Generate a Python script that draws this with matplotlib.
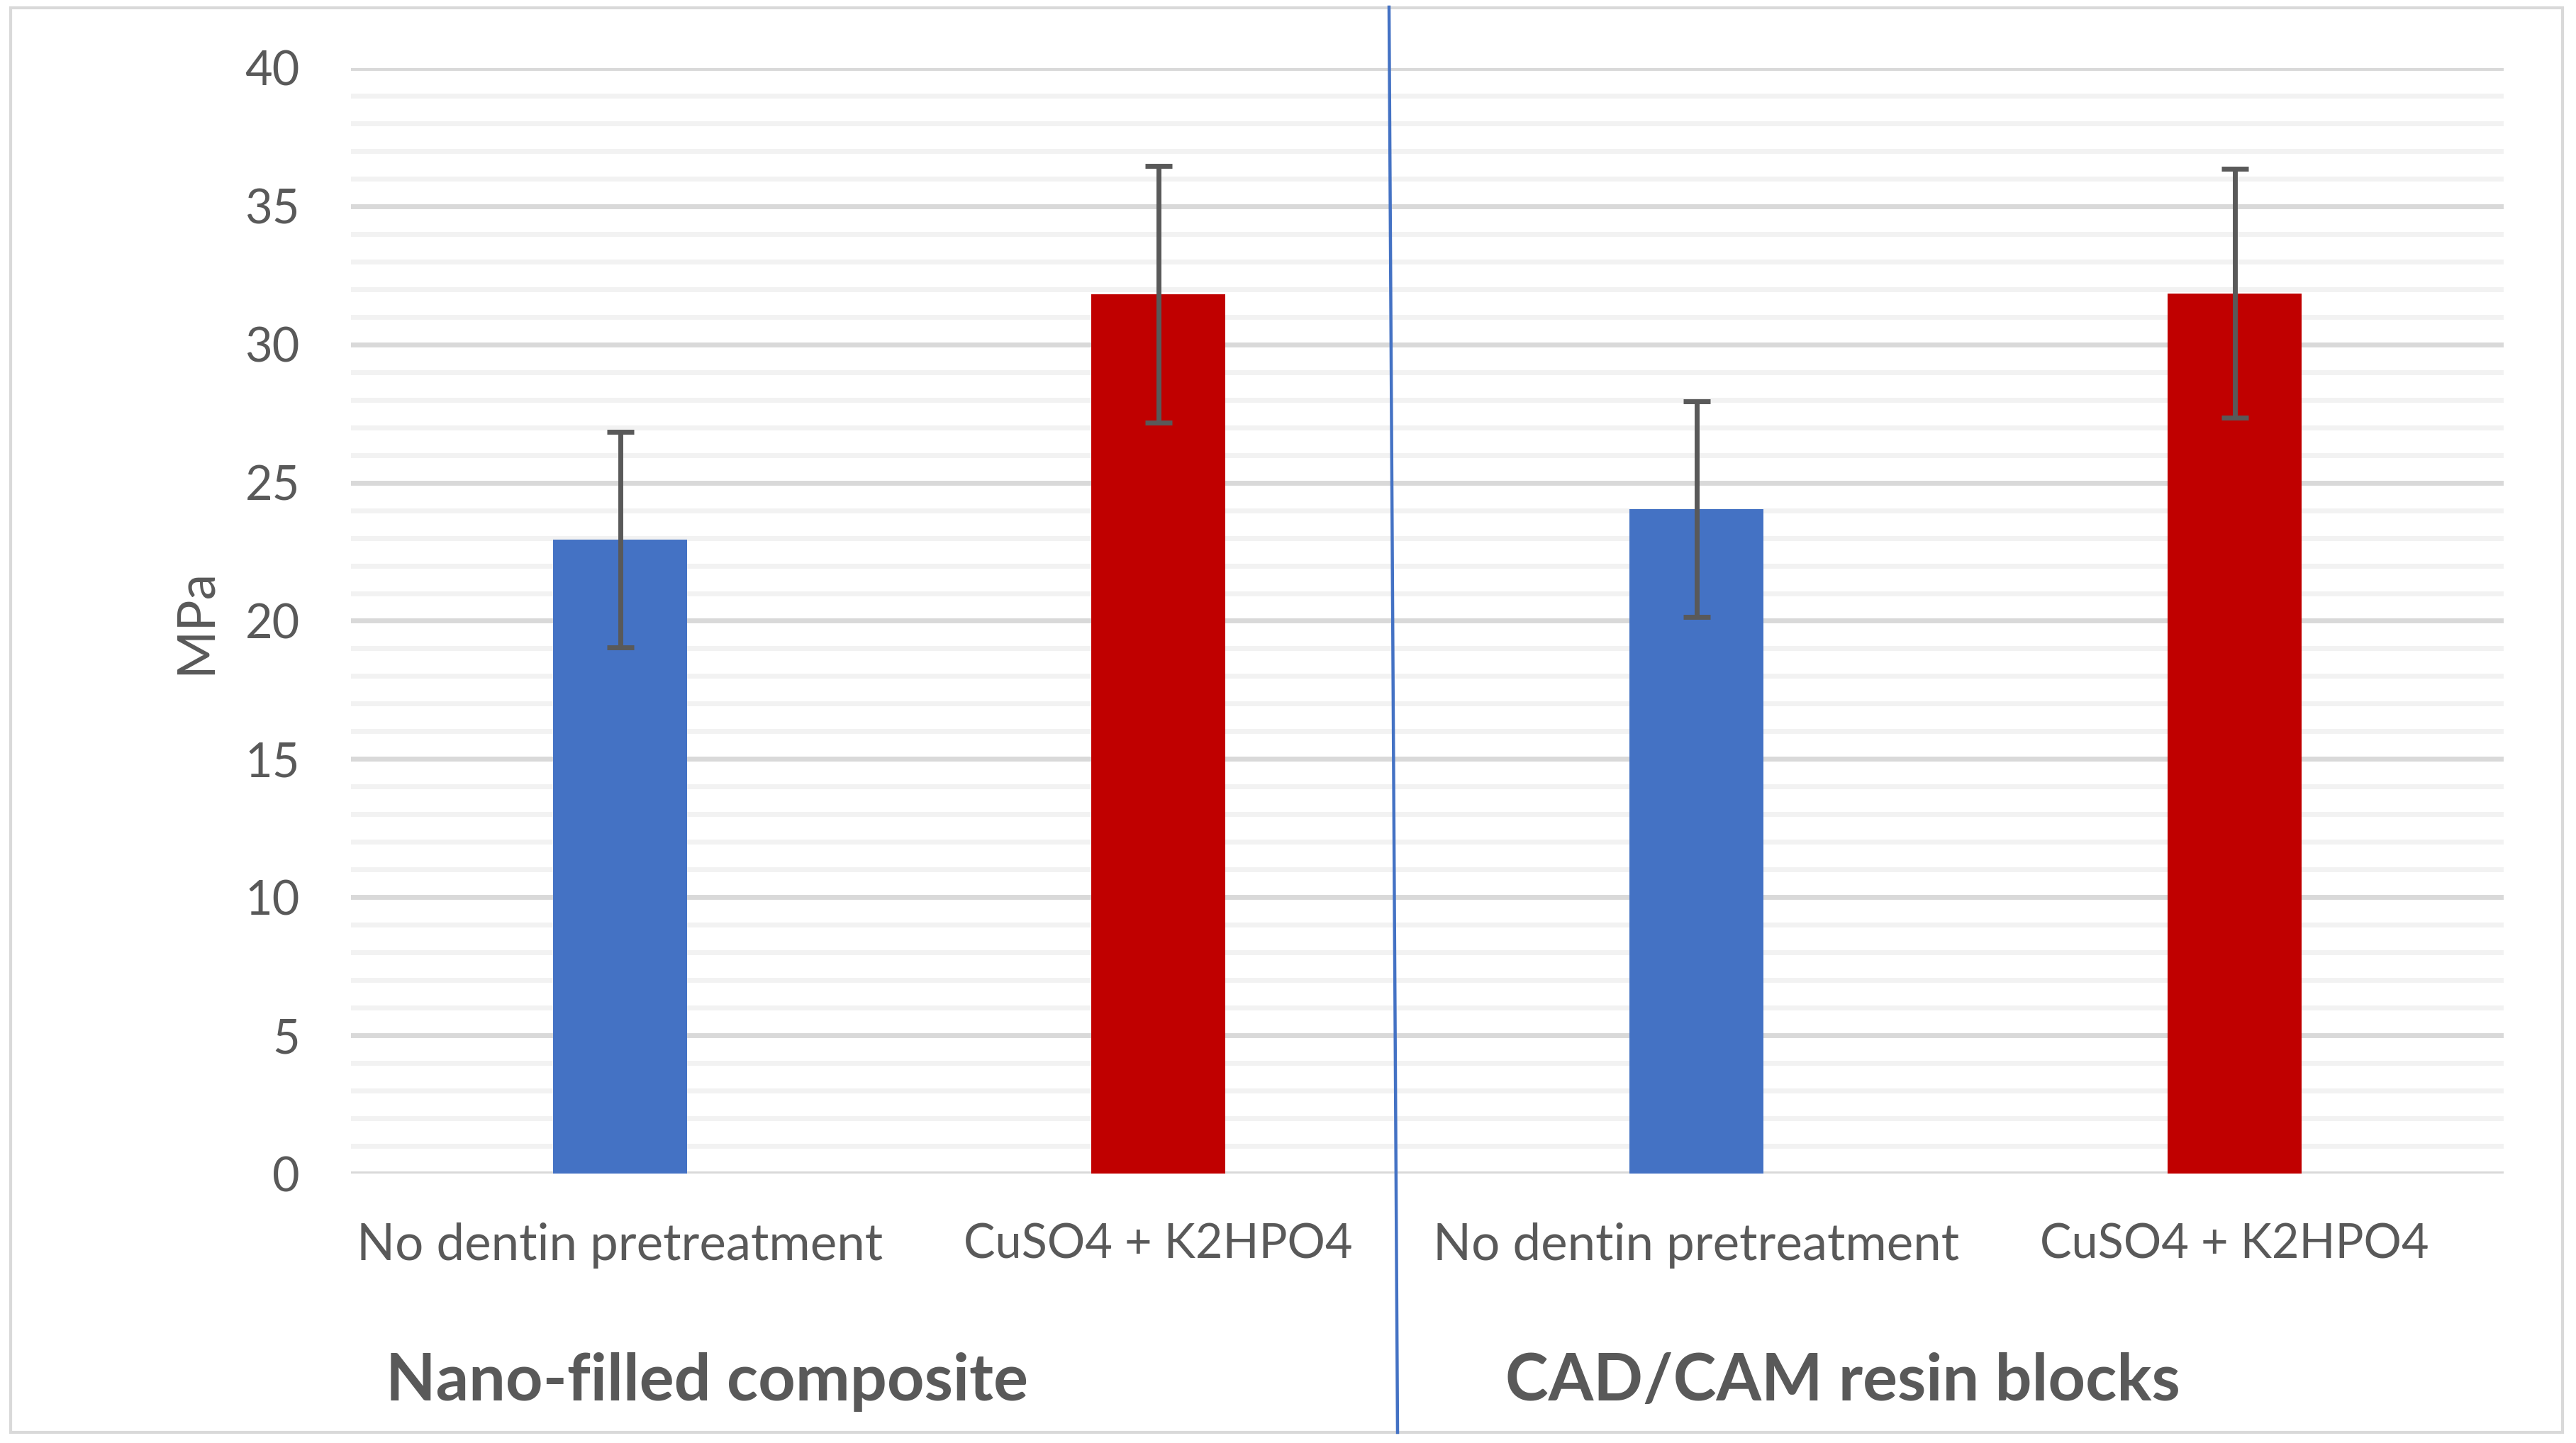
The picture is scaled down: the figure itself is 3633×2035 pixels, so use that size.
import matplotlib
matplotlib.use("Agg")
import matplotlib.pyplot as plt
from matplotlib.lines import Line2D
from matplotlib.patches import Rectangle
from matplotlib.ticker import MultipleLocator

plt.rcParams['font.family'] = ['Lato', 'DejaVu Sans']

# ---- data ----
categories = ["No dentin pretreatment", "CuSO4 + K2HPO4",
              "No dentin pretreatment", "CuSO4 + K2HPO4"]
means = [22.93, 31.82, 24.04, 31.85]
errors = [3.9, 4.65, 3.9, 4.5]
bar_colors = ["#4472C4", "#C00000", "#4472C4", "#C00000"]
group_titles = ["Nano-filled composite", "CAD/CAM resin blocks"]
y_label = "MPa"
y_ticks = [0, 5, 10, 15, 20, 25, 30, 35, 40]

W, H, DPI = 3633, 2035, 100
fig = plt.figure(figsize=(W / DPI, H / DPI), dpi=DPI)
fig.patch.set_facecolor("white")

def px(x0, y0_top, x1, y1_top):
    return [x0 / W, 1 - y1_top / H, (x1 - x0) / W, (y1_top - y0_top) / H]

ax = fig.add_axes(px(495, 96, 3531, 1655))
x = list(range(len(categories)))

ax.set_ylim(0, 40)
ax.set_xlim(-0.5, len(categories) - 0.5)
ax.yaxis.set_major_locator(MultipleLocator(5))
ax.yaxis.set_minor_locator(MultipleLocator(1))
ax.grid(which="minor", axis="y", color="#F2F2F2", lw=5, zorder=0)
ax.grid(which="major", axis="y", color="#D9D9D9", lw=5, zorder=0.5)
ax.set_axisbelow(True)

ax.bar(x, means, width=0.25, color=bar_colors, zorder=2)
ax.errorbar(x, means, yerr=errors, fmt="none", ecolor="#595959",
            elinewidth=5, capsize=14, capthick=5, zorder=3)

for s in ax.spines.values():
    s.set_visible(False)
ax.set_yticks(y_ticks)
ax.set_yticklabels([str(t) for t in y_ticks])
ax.set_xticks(x)
ax.set_xticklabels(categories)
ax.tick_params(axis="both", which="both", length=0)
ax.tick_params(axis="y", labelsize=48, labelcolor="#595959", pad=52)
ax.tick_params(axis="x", labelsize=51, labelcolor="#595959", pad=50)
for lbl in ax.get_xticklabels():
    if lbl.get_text().startswith("CuSO4"):
        lbl.set_fontsize(48)

fig.text(276 / W, 1 - 876 / H, y_label, rotation=90, ha="center",
         va="center", fontsize=53, color="#595959")

for cx, title in zip([997, 2599], group_titles):
    fig.text(cx / W, 1 - 1975 / H, title, ha="center", va="baseline",
             fontsize=66, fontweight="bold", color="#595959")

# divider line and outer border
fig.add_artist(Line2D([1959 / W, 1971 / W], [1 - 10 / H, 1 - 2020 / H],
                      transform=fig.transFigure, color="#4472C4", lw=3.2))
fig.add_artist(Rectangle((15 / W, 1 - 2020 / H), (3614 - 15) / W,
                         (2020 - 11) / H, transform=fig.transFigure,
                         fill=False, edgecolor="#D9D9D9", lw=3))

fig.savefig("out.png", dpi=DPI, facecolor="white")
